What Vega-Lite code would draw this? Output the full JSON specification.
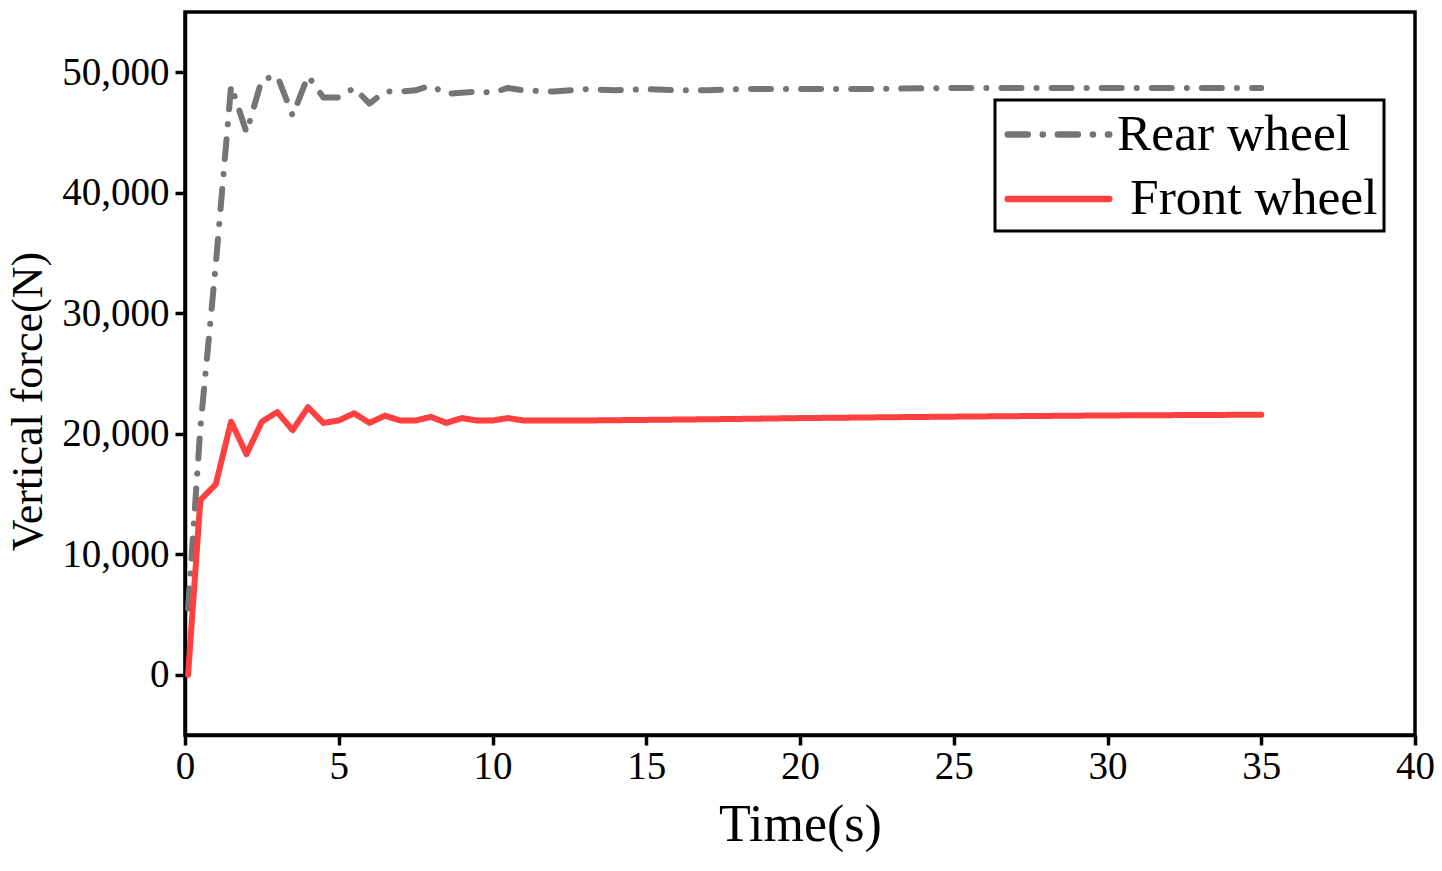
{
  "$schema": "https://vega.github.io/schema/vega-lite/v6.json",
  "description": "Vertical force on rear and front wheel over time",
  "width": 1230,
  "height": 723,
  "autosize": {"type": "none"},
  "padding": {"left": 185, "top": 12, "right": 27, "bottom": 136},
  "background": "white",
  "data": {
    "values": [
      {"series": "Rear wheel", "time": 0.1, "force": 5500},
      {"series": "Rear wheel", "time": 0.5, "force": 20500},
      {"series": "Rear wheel", "time": 1.0, "force": 34000},
      {"series": "Rear wheel", "time": 1.5, "force": 48900},
      {"series": "Rear wheel", "time": 2.0, "force": 45000},
      {"series": "Rear wheel", "time": 2.5, "force": 49400},
      {"series": "Rear wheel", "time": 3.0, "force": 49700},
      {"series": "Rear wheel", "time": 3.5, "force": 46400},
      {"series": "Rear wheel", "time": 4.0, "force": 49700},
      {"series": "Rear wheel", "time": 4.5, "force": 47900},
      {"series": "Rear wheel", "time": 5.0, "force": 47900},
      {"series": "Rear wheel", "time": 5.5, "force": 48700},
      {"series": "Rear wheel", "time": 6.0, "force": 47400},
      {"series": "Rear wheel", "time": 6.5, "force": 48400},
      {"series": "Rear wheel", "time": 7.0, "force": 48400},
      {"series": "Rear wheel", "time": 7.5, "force": 48500},
      {"series": "Rear wheel", "time": 8.0, "force": 48900},
      {"series": "Rear wheel", "time": 8.5, "force": 48200},
      {"series": "Rear wheel", "time": 9.0, "force": 48300},
      {"series": "Rear wheel", "time": 9.5, "force": 48400},
      {"series": "Rear wheel", "time": 10.0, "force": 48300},
      {"series": "Rear wheel", "time": 10.5, "force": 48700},
      {"series": "Rear wheel", "time": 11.0, "force": 48500},
      {"series": "Rear wheel", "time": 12.0, "force": 48400},
      {"series": "Rear wheel", "time": 13.0, "force": 48600},
      {"series": "Rear wheel", "time": 14.0, "force": 48500},
      {"series": "Rear wheel", "time": 15.0, "force": 48600},
      {"series": "Rear wheel", "time": 16.0, "force": 48500},
      {"series": "Rear wheel", "time": 17.0, "force": 48500},
      {"series": "Rear wheel", "time": 18.0, "force": 48600},
      {"series": "Rear wheel", "time": 20.0, "force": 48600},
      {"series": "Rear wheel", "time": 22.0, "force": 48600},
      {"series": "Rear wheel", "time": 25.0, "force": 48700},
      {"series": "Rear wheel", "time": 28.0, "force": 48700},
      {"series": "Rear wheel", "time": 30.0, "force": 48700},
      {"series": "Rear wheel", "time": 32.0, "force": 48700},
      {"series": "Rear wheel", "time": 35.0, "force": 48700},
      {"series": "Front wheel", "time": 0.1, "force": 0},
      {"series": "Front wheel", "time": 0.5, "force": 14500},
      {"series": "Front wheel", "time": 1.0, "force": 15800},
      {"series": "Front wheel", "time": 1.5, "force": 21000},
      {"series": "Front wheel", "time": 2.0, "force": 18300},
      {"series": "Front wheel", "time": 2.5, "force": 21000},
      {"series": "Front wheel", "time": 3.0, "force": 21800},
      {"series": "Front wheel", "time": 3.5, "force": 20300},
      {"series": "Front wheel", "time": 4.0, "force": 22200},
      {"series": "Front wheel", "time": 4.5, "force": 20900},
      {"series": "Front wheel", "time": 5.0, "force": 21100},
      {"series": "Front wheel", "time": 5.5, "force": 21700},
      {"series": "Front wheel", "time": 6.0, "force": 20900},
      {"series": "Front wheel", "time": 6.5, "force": 21500},
      {"series": "Front wheel", "time": 7.0, "force": 21100},
      {"series": "Front wheel", "time": 7.5, "force": 21100},
      {"series": "Front wheel", "time": 8.0, "force": 21400},
      {"series": "Front wheel", "time": 8.5, "force": 20900},
      {"series": "Front wheel", "time": 9.0, "force": 21300},
      {"series": "Front wheel", "time": 9.5, "force": 21100},
      {"series": "Front wheel", "time": 10.0, "force": 21100},
      {"series": "Front wheel", "time": 10.5, "force": 21300},
      {"series": "Front wheel", "time": 11.0, "force": 21100},
      {"series": "Front wheel", "time": 13.0, "force": 21100},
      {"series": "Front wheel", "time": 15.0, "force": 21150},
      {"series": "Front wheel", "time": 18.0, "force": 21230},
      {"series": "Front wheel", "time": 20.0, "force": 21300},
      {"series": "Front wheel", "time": 25.0, "force": 21420},
      {"series": "Front wheel", "time": 30.0, "force": 21520},
      {"series": "Front wheel", "time": 35.0, "force": 21580}
    ]
  },
  "mark": {"type": "line", "strokeWidth": 6, "strokeCap": "round", "strokeJoin": "round"},
  "encoding": {
    "x": {
      "field": "time",
      "type": "quantitative",
      "scale": {"domain": [0, 40], "nice": false, "zero": false},
      "axis": {
        "title": "Time(s)",
        "values": [0, 5, 10, 15, 20, 25, 30, 35, 40],
        "format": "d",
        "tickSize": 10,
        "labelPadding": 33,
        "labelBaseline": "alphabetic",
        "labelFlush": false,
        "labelOverlap": false,
        "titleFontSize": 52,
        "titleBaseline": "alphabetic",
        "titleY": 105,
        "encode": {"ticks": {"update": {"y2": {"value": -10}}}}
      }
    },
    "y": {
      "field": "force",
      "type": "quantitative",
      "scale": {"domain": [-5000, 55000], "nice": false, "zero": false},
      "axis": {
        "title": "Vertical force(N)",
        "values": [0, 10000, 20000, 30000, 40000, 50000],
        "format": ",d",
        "tickSize": 10,
        "labelPadding": 6,
        "labelBaseline": "middle",
        "labelOverlap": false,
        "titleFontSize": 44,
        "titleAngle": -90,
        "titleAlign": "center",
        "titleBaseline": "alphabetic",
        "titleX": -144,
        "titleY": 389,
        "encode": {"ticks": {"update": {"x2": {"value": 10}}}}
      }
    },
    "color": {
      "field": "series",
      "type": "nominal",
      "scale": {"domain": ["Rear wheel", "Front wheel"], "range": ["#757575", "#ff4040"]},
      "legend": {
        "title": null,
        "orient": "none",
        "legendX": 810,
        "legendY": 88,
        "direction": "vertical",
        "padding": 6,
        "strokeColor": "black",
        "labelFont": "Liberation Serif",
        "labelFontSize": 51.5,
        "labelColor": "black",
        "labelLimit": 400,
        "labelOffset": 30,
        "symbolType": "M-2.03,0L2.03,0",
        "symbolSize": 2500,
        "symbolOffset": 29,
        "symbolStrokeWidth": 6.5,
        "rowPadding": 10.5,
        "encode": {
          "legend": {"update": {"strokeWidth": {"value": 3}}},
          "labels": {
            "update": {
              "dx": [
                {"test": "datum.value == 'Front wheel'", "value": 13},
                {"value": 0}
              ]
            }
          },
          "symbols": {
            "update": {
              "strokeDash": {"signal": "datum.value == 'Rear wheel' ? [33, 20, 0.1, 20] : [1, 0]"},
              "strokeCap": {"value": "round"}
            }
          }
        }
      }
    },
    "strokeDash": {
      "field": "series",
      "type": "nominal",
      "scale": {"domain": ["Rear wheel", "Front wheel"], "range": [[20, 15, 0.1, 15], [1, 0]]},
      "legend": null
    }
  },
  "config": {
    "font": "Liberation Serif",
    "view": {"stroke": "black", "strokeWidth": 3.5},
    "axis": {
      "grid": false,
      "domainColor": "black",
      "domainWidth": 3.5,
      "tickColor": "black",
      "tickWidth": 3.5,
      "labelFont": "Liberation Serif",
      "labelFontSize": 39,
      "labelColor": "black",
      "titleFont": "Liberation Serif",
      "titleFontWeight": "normal",
      "titleColor": "black"
    }
  }
}
